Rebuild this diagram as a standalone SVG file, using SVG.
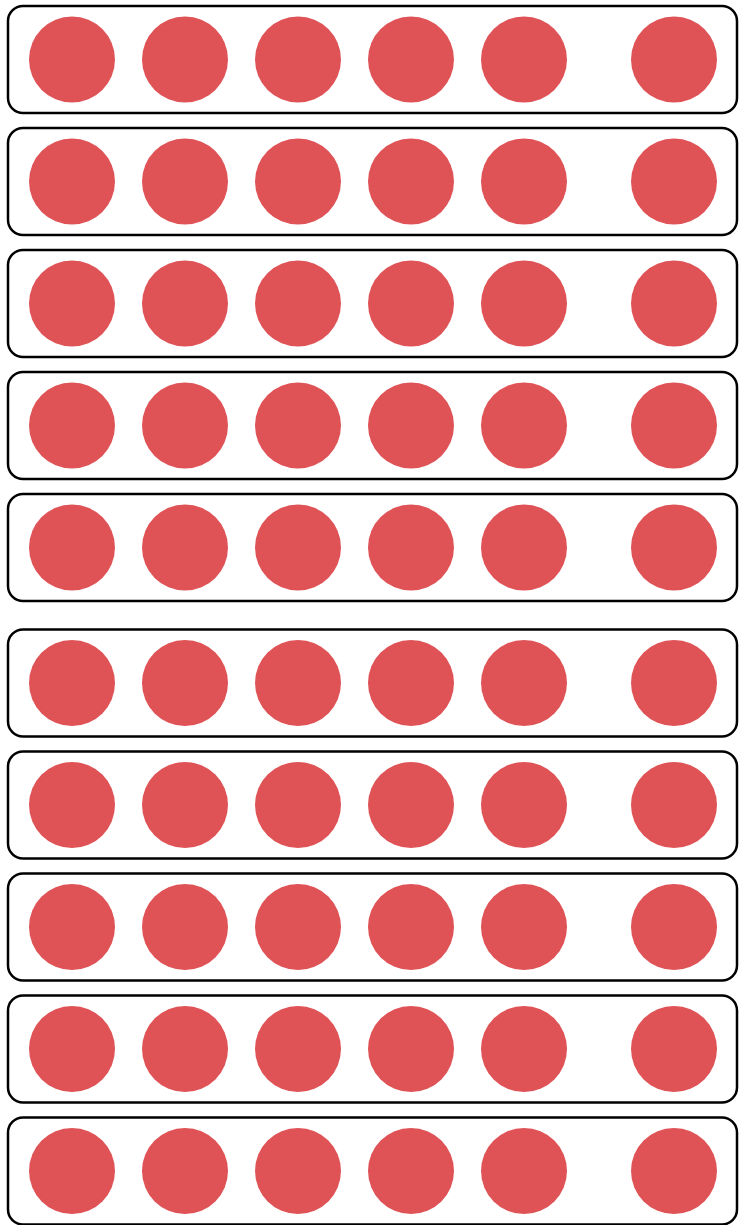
<svg xmlns="http://www.w3.org/2000/svg" width="743" height="1225" viewBox="0 0 743 1225">
<defs>
<style>
.frame{fill:#fff;stroke:#000;stroke-width:2.5}
.dot{fill:#df5357}
</style>
<g id="rowtpl">
<rect class="frame" x="8" y="-53.5" width="729" height="107" rx="15" ry="15"/>
<circle class="dot" cx="72" cy="0" r="43"/>
<circle class="dot" cx="185" cy="0" r="43"/>
<circle class="dot" cx="298" cy="0" r="43"/>
<circle class="dot" cx="411" cy="0" r="43"/>
<circle class="dot" cx="524" cy="0" r="43"/>
<circle class="dot" cx="674" cy="0" r="43"/>
</g>
</defs>
<rect width="743" height="1225" fill="#fff"/>
<g id="row1"><use href="#rowtpl" transform="translate(0,59.5)"/></g>
<g id="row2"><use href="#rowtpl" transform="translate(0,181.5)"/></g>
<g id="row3"><use href="#rowtpl" transform="translate(0,303.5)"/></g>
<g id="row4"><use href="#rowtpl" transform="translate(0,425.5)"/></g>
<g id="row5"><use href="#rowtpl" transform="translate(0,547.5)"/></g>
<g id="row6"><use href="#rowtpl" transform="translate(0,683)"/></g>
<g id="row7"><use href="#rowtpl" transform="translate(0,805)"/></g>
<g id="row8"><use href="#rowtpl" transform="translate(0,927)"/></g>
<g id="row9"><use href="#rowtpl" transform="translate(0,1049)"/></g>
<g id="row10"><use href="#rowtpl" transform="translate(0,1171)"/></g>
<g id="connectors"/>
</svg>
